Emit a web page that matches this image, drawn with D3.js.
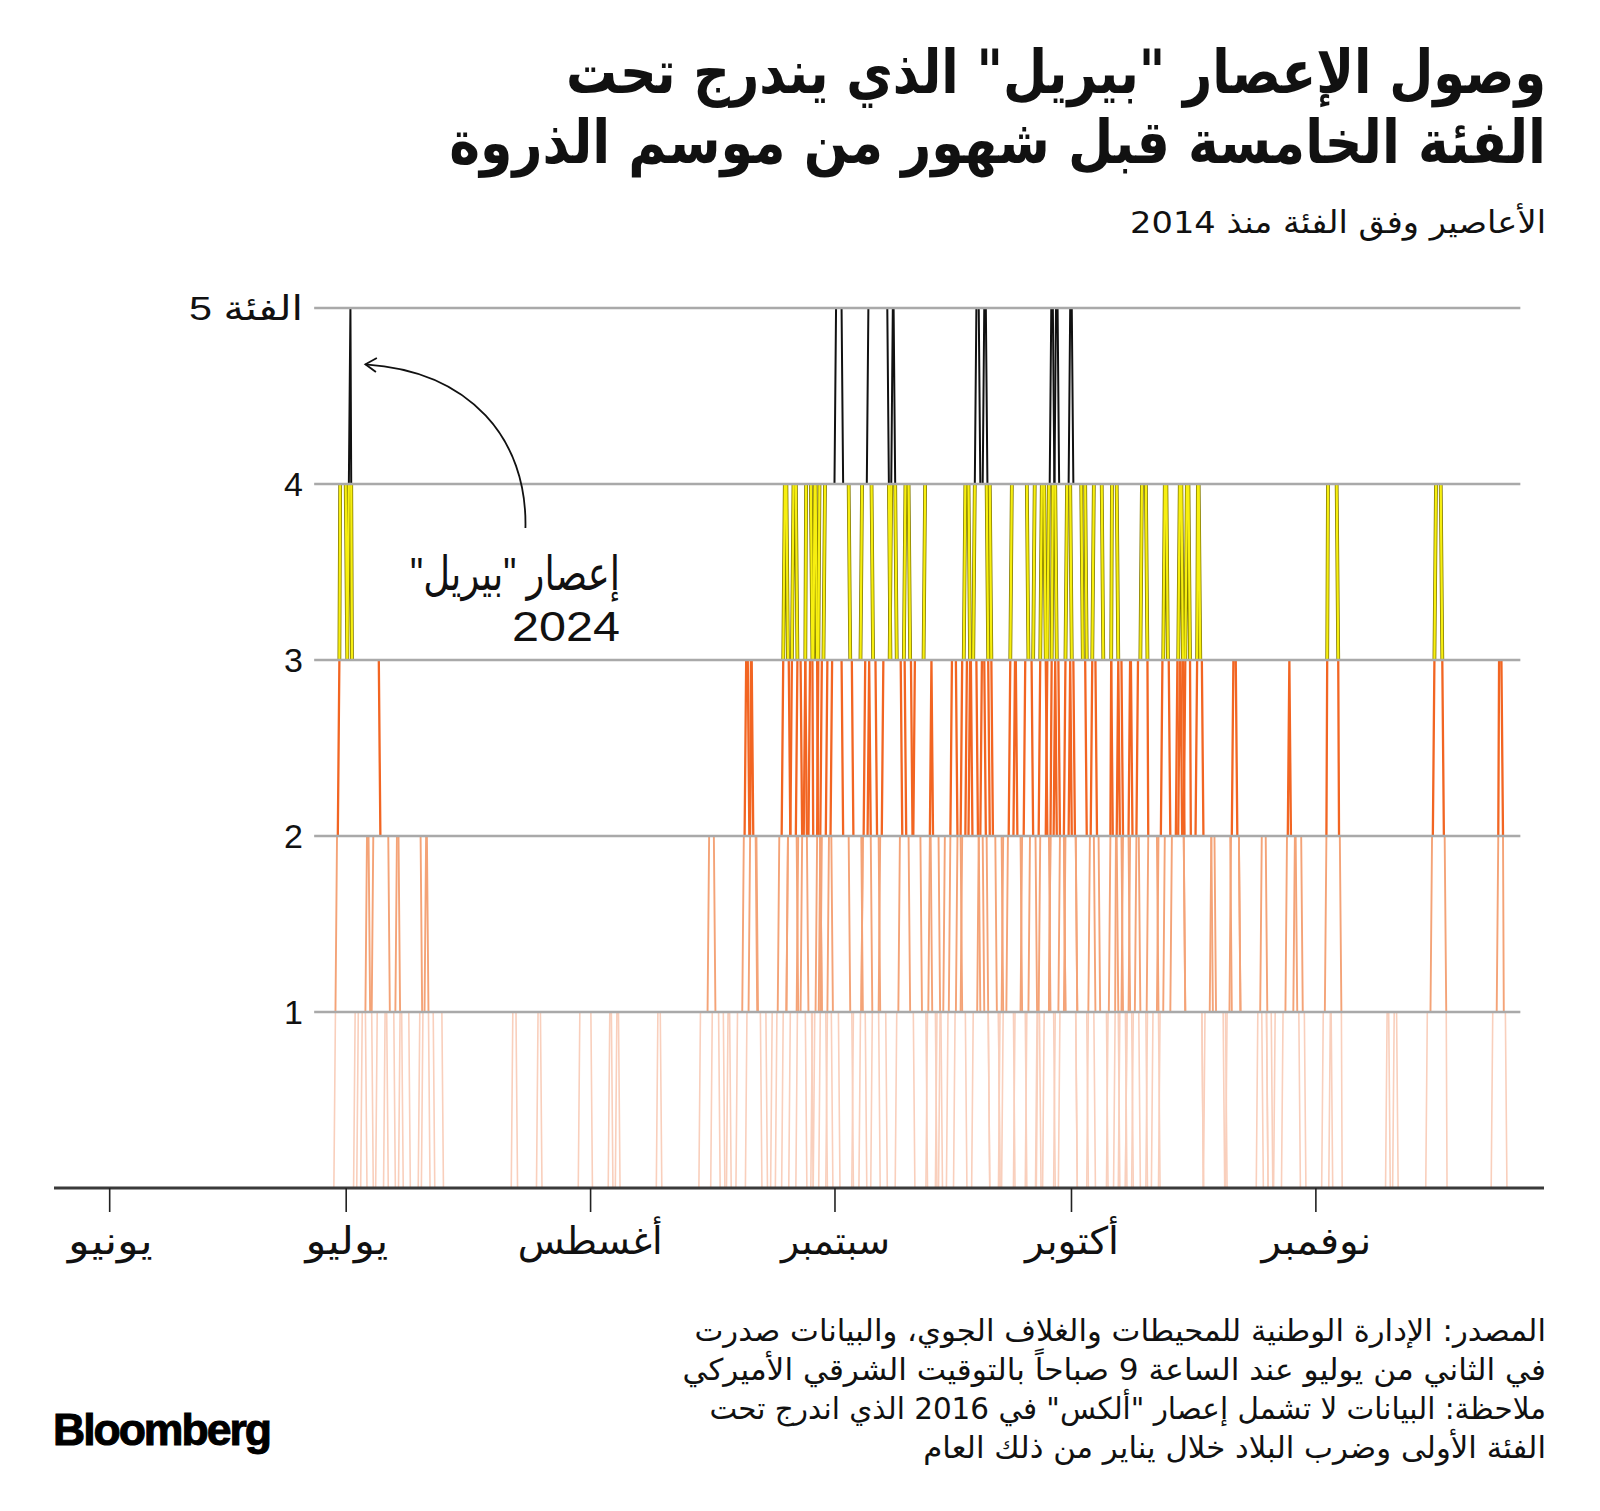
<!DOCTYPE html>
<html><head><meta charset="utf-8">
<script src="https://cdn.jsdelivr.net/npm/d3@7"></script>
<style>body{margin:0;background:#fff} svg{display:block}</style>
</head><body>
<svg id="chart" width="1600" height="1511"></svg>
<script>
// ---------------- DATA ----------------
const titleLines = ["وصول الإعصار \"بيريل\" الذي يندرج تحت", "الفئة الخامسة قبل شهور من موسم الذروة"];
const subtitle = "الأعاصير وفق الفئة منذ 2014";
const categoryTicks = [1, 2, 3, 4, 5];
const categoryLabels = ["1", "2", "3", "4", "الفئة 5"];
const monthDates = ["2024-06-01", "2024-07-01", "2024-08-01", "2024-09-01", "2024-10-01", "2024-11-01"];
const monthLabels = ["يونيو", "يوليو", "أغسطس", "سبتمبر", "أكتوبر", "نوفمبر"];
const annotationLines = ["إعصار \"بيريل\"", "2024"];
const footnoteLines = [
  "المصدر: الإدارة الوطنية للمحيطات والغلاف الجوي، والبيانات صدرت",
  "في الثاني من يوليو عند الساعة 9 صباحاً بالتوقيت الشرقي الأميركي",
  "ملاحظة: البيانات لا تشمل إعصار \"ألكس\" في 2016 الذي اندرج تحت",
  "الفئة الأولى وضرب البلاد خلال يناير من ذلك العام"
];
const seasonStart = "2024-06-01";   // day 0 of the storm day counts below
const axisDomain = ["2024-05-25", "2024-11-30"];
const gridDomain = ["2024-06-27", "2024-11-27"];

// Each storm: list of [day since June 1, category reached at that moment]
const beryl2024 = [[28.7,1],[28.9,2],[29.2,3],[29.3,4],[30.2,3],[30.6,5],[30.8,3],[34.4,2],[36.9,1],[37.3,0]];

const cat5Storms = [
  [[89.5,1],[90.2,2],[90.4,3],[90.8,4],[92.2,5],[93.1,4],[94.0,3],[94.4,2],[95.6,1],[96.1,0]],
  [[91.1,1],[91.3,2],[91.7,3],[95.5,4],[96.3,5],[99.1,3],[100.6,2],[101.6,1],[102.2,0]],
  [[95.3,1],[95.6,2],[95.9,3],[99.4,5],[99.9,3],[101.1,2],[103.1,1],[103.8,0]],
  [[105.4,1],[106.0,2],[108.2,3],[108.6,4],[110.0,5],[110.5,4],[111.0,5],[111.4,4],[112.1,2],[112.6,1],[113.0,0]],
  [[116.4,1],[116.8,2],[118.3,4],[119.5,5],[119.9,4],[120.2,3],[120.6,2],[121.3,1],[122.8,0]],
  [[117.7,1],[118.1,2],[119.2,4],[120.1,5],[120.5,4],[122.1,3],[122.5,2],[122.8,1],[124.2,0]],
  [[120.0,1],[120.6,2],[121.3,3],[121.5,4],[121.9,5],[122.3,4],[123.5,3],[124.0,2],[125.1,1],[128.2,0]]
];

const cat4Storms = [
  [[84.1,1],[85.0,2],[85.5,3],[85.7,4],[86.1,3],[86.4,2],[87.4,1],[88.5,0]],
  [[84.7,1],[86.1,2],[86.6,3],[86.8,4],[87.3,3],[87.9,2],[88.7,1],[89.3,0]],
  [[86.4,1],[87.4,2],[88.3,3],[88.4,4],[89.2,3],[89.3,2],[90.4,1],[91.1,0]],
  [[87.3,1],[87.9,2],[88.9,3],[89.5,4],[89.8,3],[89.9,2],[91.8,1],[92.7,0]],
  [[89.2,1],[89.8,2],[90.1,4],[96.9,3],[97.4,2],[97.8,1],[98.7,0]],
  [[96.8,1],[97.8,2],[98.2,3],[101.0,4],[101.6,3],[101.9,2],[104.4,1],[105.0,0]],
  [[99.9,1],[100.3,2],[102.2,3],[103.5,4],[109.2,3],[110.2,2],[111.0,1],[111.7,0]],
  [[107.3,1],[107.6,2],[108.8,3],[109.8,4],[111.5,3],[111.7,2],[113.4,1],[114.9,0]],
  [[113.4,1],[114.0,2],[114.5,4],[116.6,3],[117.2,2],[117.7,1],[118.2,0]],
  [[114.9,1],[115.8,2],[116.2,3],[117.4,4],[118.8,3],[119.0,2],[119.4,1],[120.0,0]],
  [[118.6,1],[119.4,2],[119.7,4],[124.0,3],[125.3,2],[125.7,1],[126.7,0]],
  [[124.2,1],[124.4,2],[124.9,4],[126.1,3],[127.3,2],[128.0,1],[129.1,0]],
  [[126.7,1],[127.0,2],[127.2,4],[128.0,3],[128.6,2],[129.5,1],[129.9,0]],
  [[129.9,1],[130.3,2],[130.5,3],[131.0,4],[131.7,3],[131.8,2],[133.1,1],[133.3,0]],
  [[131.7,1],[133.1,2],[133.6,3],[133.9,4],[134.3,3],[134.6,2],[136.5,1],[138.8,0]],
  [[132.4,1],[133.9,2],[135.5,3],[135.8,4],[136.2,3],[136.4,2],[140.0,1],[141.8,0]],
  [[133.3,1],[134.8,2],[136.7,4],[137.1,3],[137.2,2],[142.4,1],[146.4,0]],
  [[129.1,1],[131.8,2],[138.0,3],[138.1,4],[138.4,3],[138.8,2],[143.5,1],[147.0,0]],
  [[154.0,1],[154.4,2],[154.5,3],[154.6,4],[155.9,3],[156.0,2],[156.3,1],[156.4,0]],
  [[167.2,1],[167.8,2],[168.1,3],[168.3,4],[169.1,3],[169.3,2],[169.6,1],[169.7,0]]
];

const cat3Storms = [
  [[79.7,1],[80.5,2],[80.8,3],[81.2,2],[82.2,1],[82.8,0]],
  [[80.9,1],[81.3,2],[81.4,3],[81.7,2],[82.3,1],[83.5,0]],
  [[85.5,1],[86.1,2],[87.3,3],[88.5,2],[90.4,1],[91.8,0]],
  [[90.2,1],[90.4,2],[91.1,3],[93.1,2],[94.0,1],[94.4,0]],
  [[94.4,1],[95.6,2],[96.4,3],[96.6,2],[96.8,1],[97.8,0]],
  [[103.8,1],[104.1,2],[104.3,3],[104.5,2],[105.4,1],[105.7,0]],
  [[105.0,1],[106.7,2],[106.9,3],[107.6,2],[108.2,1],[108.8,0]],
  [[106.4,1],[108.2,2],[109.2,3],[109.5,2],[110.5,1],[111.7,0]],
  [[109.6,1],[110.3,2],[110.7,3],[111.2,2],[111.5,1],[113.0,0]],
  [[113.0,1],[113.4,2],[114.9,3],[115.2,2],[115.8,1],[116.4,0]],
  [[117.8,1],[119.4,2],[120.0,3],[120.2,2],[121.3,1],[122.8,0]],
  [[120.6,1],[121.3,2],[121.9,3],[122.1,2],[122.8,1],[125.1,0]],
  [[127.6,1],[127.7,2],[128.0,3],[128.2,2],[128.6,1],[130.8,0]],
  [[128.2,1],[128.6,2],[129.5,3],[129.8,2],[130.8,1],[131.7,0]],
  [[129.1,1],[129.5,2],[135.8,3],[136.1,2],[136.5,1],[138.8,0]],
  [[141.8,1],[142.3,2],[142.6,3],[143.1,2],[143.5,1],[147.0,0]],
  [[147.9,1],[149.4,2],[149.7,3],[149.9,2],[150.7,1],[151.1,0]],
  [[175.5,1],[176.2,2],[176.3,3],[176.8,2],[176.9,1],[177.3,0]]
];

const cat2Storms = [
  [[31.6,1],[32.7,2],[33.1,1],[33.5,0]],
  [[32.1,1],[33.5,2],[35.6,1],[36.3,0]],
  [[35.0,1],[36.5,2],[39.7,1],[40.7,0]],
  [[39.4,1],[40.2,2],[40.5,1],[41.3,0]],
  [[75.0,1],[76.1,2],[76.9,1],[77.5,0]],
  [[139.0,1],[139.8,2],[140.4,1],[141.5,0]],
  [[145.7,1],[146.2,2],[146.9,1],[147.6,0]],
  [[148.9,1],[150.4,2],[151.4,1],[151.8,0]]
];

const cat1Storms = [
  [[31.2,1],[32.7,0]], [[34.0,1],[35.4,0]], [[36.9,1],[38.2,0]], [[39.8,1],[42.4,0]],
  [[51.2,1],[51.8,0]], [[54.4,1],[54.9,0]], [[59.7,1],[61.3,0]], [[63.5,1],[63.9,0]],
  [[64.4,1],[64.8,0]], [[69.6,1],[70.1,0]], [[76.5,1],[78.1,0]], [[78.5,1],[78.9,0]],
  [[154.9,1],[155.2,0]], [[162.1,1],[162.5,0]], [[163.0,1],[163.5,0]]
];

// band styling (0-1 ... 4-5)
const bandColors = ["#f9cfbc", "#f4a377", "#f26522", "#f7ef10", "#111111"];
const bandWidths = [1.6, 1.9, 2.3, 2.2, 2.0];

// ---------------- CHART ----------------
const svg = d3.select("#chart");
const parse = d3.timeParse("%Y-%m-%d");
const x = d3.scaleTime().domain(axisDomain.map(parse)).range([54, 1544]);
const y = d3.scaleLinear().domain([0, 5]).range([1188, 308]);
const t0 = parse(seasonStart);
const dayToDate = s => new Date(+t0 + s * 864e5);
const STEP = 0.2; // duration (days) of a one-category change

const allStorms = [beryl2024, ...cat5Storms, ...cat4Storms, ...cat3Storms, ...cat2Storms, ...cat1Storms];

function segmentsOf(tr) {
  let pc = 0, pt = -Infinity;
  const segs = [];
  for (const [t, c] of tr) {
    const st = Math.max(pt, t - STEP * Math.abs(c - pc));
    segs.push([[st, pc], [t, c]]);
    pc = c; pt = t;
  }
  return segs;
}
const line = d3.line().x(d => x(dayToDate(d[0]))).y(d => y(d[1]));
const stormPath = tr => segmentsOf(tr).map(s => line(s)).join("");

const defs = svg.append("defs");
d3.range(5).forEach(b => {
  defs.append("clipPath").attr("id", "band" + b)
    .append("rect").attr("x", 0).attr("width", 1600)
    .attr("y", y(b + 1)).attr("height", y(b) - y(b + 1));
});

d3.range(5).forEach(b => {
  const g = svg.append("g").attr("clip-path", `url(#band${b})`);
  if (b === 3) {
    g.selectAll("path.o").data(allStorms).join("path").attr("class", "o")
      .attr("d", stormPath).attr("fill", "none")
      .attr("stroke", "#857c00").attr("stroke-width", 3.8);
  }
  g.selectAll("path.s").data(allStorms).join("path").attr("class", "s")
    .attr("d", stormPath).attr("fill", "none")
    .attr("stroke", bandColors[b]).attr("stroke-width", bandWidths[b]);
});

// gridlines
const g0 = parse(gridDomain[0]), g1 = parse(gridDomain[1]);
svg.append("g").selectAll("line").data(categoryTicks).join("line")
  .attr("x1", x(g0)).attr("x2", x(g1))
  .attr("y1", d => y(d)).attr("y2", d => y(d))
  .attr("stroke", "#a9a9a9").attr("stroke-width", 2.6);

// x axis
const months = monthDates.map(parse);
const xAxis = d3.axisBottom(x).tickValues(months).tickSize(24).tickFormat("");
const ax = svg.append("g").attr("transform", `translate(0,${y(0)})`).call(xAxis);
ax.select(".domain").attr("stroke", "#3a3a3a").attr("stroke-width", 3)
  .attr("d", `M${x.range()[0]},0H${x.range()[1]}`);
ax.selectAll(".tick line").attr("stroke", "#222").attr("stroke-width", 1.6);

// text helper: right- or center-align, with horizontal fit
function place(sel, opt) {
  const bb = sel.node().getBBox();
  const s = opt.width ? opt.width / bb.width : 1;
  const tx = opt.right != null ? opt.right - s * (bb.x + bb.width)
                               : opt.center - s * (bb.x + bb.width / 2);
  sel.attr("transform", `translate(${tx},0) scale(${s},1)`);
}
function txt(str, yBase, size, weight, family) {
  return svg.append("text").attr("x", 0).attr("y", yBase)
    .attr("direction", "rtl").attr("font-size", size)
    .attr("font-weight", weight || "normal")
    .attr("font-family", family || "'DejaVu Sans', sans-serif")
    .attr("fill", "#111").text(str);
}

// titles
const titleWidths = [980, 1097];
titleLines.forEach((t, i) => place(txt(t, [93, 163][i], 60, "bold"), {right: 1546, width: titleWidths[i]}));
place(txt(subtitle, 233, 31), {right: 1546, width: 416});

// y labels
categoryLabels.forEach((l, i) => {
  const el = txt(l, y(categoryTicks[i]) + 12, 34, "normal", "'Liberation Sans', 'DejaVu Sans', sans-serif");
  place(el, i === 4 ? {right: 303, width: 114} : {right: 303});
});

// month labels
const monthWidths = [87, 85, 145, 111, 96, 112];
monthLabels.forEach((l, i) => {
  place(txt(l, 1254, 38), {center: x(months[i]), width: monthWidths[i]});
});

// annotation
const bx = x(dayToDate(30.6));
const tip = [bx + 15, y(4.68)];
const start = [tip[0] + 160, y(3.75)];
defs.append("marker").attr("id", "arr").attr("markerUnits", "userSpaceOnUse")
  .attr("viewBox", "-14 -10 16 20").attr("refX", 0).attr("refY", 0)
  .attr("markerWidth", 16).attr("markerHeight", 20).attr("orient", "auto")
  .append("path").attr("d", "M-11,-7L0,0L-11,7").attr("fill", "none")
  .attr("stroke", "#111").attr("stroke-width", 1.8);
const ap = d3.path();
ap.moveTo(start[0], start[1]);
ap.bezierCurveTo(start[0] + 2, start[1] - 89, start[0] - 55, tip[1] + 7, tip[0], tip[1]);
svg.append("path").attr("d", ap.toString()).attr("fill", "none")
  .attr("stroke", "#111").attr("stroke-width", 1.8).attr("marker-end", "url(#arr)");
place(txt(annotationLines[0], 590, 47, "normal", "'Liberation Sans', 'DejaVu Sans', sans-serif"), {right: 620, width: 210});
place(txt(annotationLines[1], 641, 43, "normal", "'Liberation Sans', sans-serif"), {right: 620, width: 108});

// footnotes
const footWidths = [852, 864, 837, 623];
footnoteLines.forEach((l, i) => place(txt(l, 1341 + i * 39, 30), {right: 1546, width: footWidths[i]}));

// logo
const logo = svg.append("text").attr("x", 0).attr("y", 1445)
  .attr("font-family", "'Liberation Sans', Arial, sans-serif").attr("font-weight", "bold")
  .attr("font-size", 44).attr("letter-spacing", -2).attr("fill", "#000")
  .attr("stroke", "#000").attr("stroke-width", 1).text("Bloomberg");
place(logo, {right: 270, width: 217});
</script>
</body></html>
